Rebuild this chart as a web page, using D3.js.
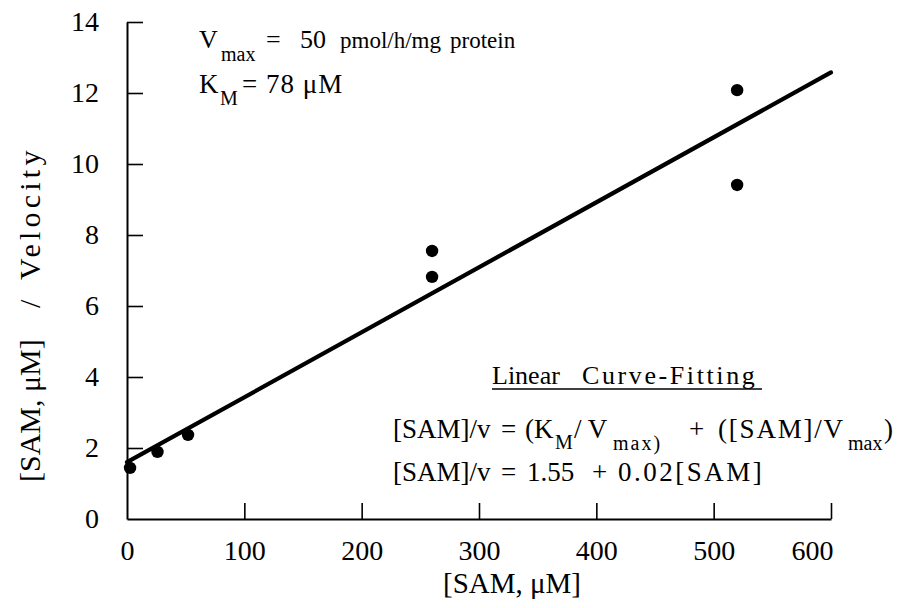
<!DOCTYPE html>
<html><head><meta charset="utf-8">
<script src="https://cdn.jsdelivr.net/npm/d3@7"></script>
<style>
html,body{margin:0;padding:0;background:#fff;}
svg{display:block;}
</style></head>
<body>
<svg id="chart" width="901" height="608"></svg>
<script>
// ---- data ----
const samConc = [2.6, 26, 52, 260, 260, 520, 520];
const samOverV = [1.44, 1.89, 2.37, 7.55, 6.82, 12.08, 9.41];
const fitIntercept = 1.6;
const fitSlope = 0.0183;
const fitRange = [0, 600];
const xTicks = [0, 100, 200, 300, 400, 500, 600];
const yTicks = [0, 2, 4, 6, 8, 10, 12, 14];

const FONT = "Liberation Serif";
const svg = d3.select("#chart").attr("font-family", FONT);
const x = d3.scaleLinear().domain([0, 600]).range([127, 831]);
const y = d3.scaleLinear().domain([0, 14]).range([519, 22]);

// axes
const xAxis = d3.axisBottom(x).tickValues(xTicks).tickSizeInner(-16).tickSizeOuter(0).tickPadding(21);
const gx = svg.append("g").attr("transform", "translate(0,519)").call(xAxis);
const yAxis = d3.axisLeft(y).tickValues(yTicks).tickSizeInner(-16).tickSizeOuter(0).tickPadding(28);
const gy = svg.append("g").attr("transform", "translate(127,0)").call(yAxis);
[gx, gy].forEach(g => {
  g.attr("font-family", FONT).attr("font-size", 28);
  g.select(".domain").attr("stroke", "#000").attr("stroke-width", 2);
  g.selectAll(".tick line").attr("stroke", "#000").attr("stroke-width", 1.6);
  g.selectAll(".tick text").attr("font-family", FONT).attr("font-size", 28).attr("fill", "#000");
});
gx.selectAll(".tick text").filter(d => d === 600).attr("dx", -19);
gx.selectAll(".tick line").filter(d => d === 0).remove();
gy.selectAll(".tick line").filter(d => d === 0).remove();

// fitted line
const line = d3.line().x(d => x(d)).y(d => y(fitIntercept + fitSlope * d));
svg.append("path").datum(fitRange).attr("d", line).attr("fill", "none")
  .attr("stroke", "#000").attr("stroke-width", 4.2).attr("stroke-linecap", "round");

// points
svg.append("g").selectAll("circle").data(samConc).join("circle")
  .attr("cx", d => x(d)).attr("cy", (d, i) => y(samOverV[i])).attr("r", 6.2).attr("fill", "#000");

function txt(sel) { return sel.append("text").attr("font-family", FONT).attr("fill", "#000"); }

// axis titles
txt(svg).attr("x", 512).attr("y", 593).attr("text-anchor", "middle")
  .attr("font-size", 29).text("[SAM, μM]");
const yt = txt(svg).attr("transform", "translate(40,0) rotate(-90)").attr("font-size", 30);
yt.append("tspan").attr("x", -482).text("[SAM, μM]");
yt.append("tspan").attr("x", -308).text("/");
yt.append("tspan").attr("x", -280).attr("letter-spacing", 4.2).text("Velocity");

// annotation top-left
const a1 = txt(svg).attr("font-size", 26);
a1.append("tspan").attr("x", 199).attr("y", 48).text("V");
a1.append("tspan").attr("x", 221).attr("y", 61).attr("font-size", 20).text("max");
a1.append("tspan").attr("x", 266).attr("y", 48).text("=");
a1.append("tspan").attr("x", 300).attr("y", 48).text("50");
a1.append("tspan").attr("x", 340).attr("y", 48).attr("font-size", 23).text("pmol/h/mg");
a1.append("tspan").attr("x", 450).attr("y", 48).attr("font-size", 23).text("protein");
const a2 = txt(svg).attr("font-size", 27);
a2.append("tspan").attr("x", 199).attr("y", 93).text("K");
a2.append("tspan").attr("x", 220).attr("y", 105).attr("font-size", 20).text("M");
a2.append("tspan").attr("x", 242).attr("y", 93).attr("letter-spacing", 1).text("= 78 μM");

// fitting annotation
const b1 = txt(svg).attr("font-size", 26);
b1.append("tspan").attr("x", 492).attr("y", 384).text("Linear");
b1.append("tspan").attr("x", 582).attr("y", 384).attr("letter-spacing", 2.6).text("Curve-Fitting");
svg.append("line").attr("x1", 492).attr("x2", 762).attr("y1", 389).attr("y2", 389)
  .attr("stroke", "#000").attr("stroke-width", 1.5);

const b2 = txt(svg).attr("font-size", 27);
b2.append("tspan").attr("x", 393).attr("y", 438).text("[SAM]/v");
b2.append("tspan").attr("x", 501).attr("y", 438).text("=");
b2.append("tspan").attr("x", 525).attr("y", 438).text("(K");
b2.append("tspan").attr("x", 555).attr("y", 449).attr("font-size", 20).text("M");
b2.append("tspan").attr("x", 574).attr("y", 438).text("/ V");
b2.append("tspan").attr("x", 613).attr("y", 450).attr("font-size", 20).attr("letter-spacing", 2).text("max)");
b2.append("tspan").attr("x", 689).attr("y", 438).text("+");
b2.append("tspan").attr("x", 718).attr("y", 438).attr("letter-spacing", 1.8).text("([SAM]/V");
b2.append("tspan").attr("x", 848).attr("y", 450).attr("font-size", 20).text("max");
b2.append("tspan").attr("x", 884).attr("y", 438).text(")");

const b3 = txt(svg).attr("font-size", 27);
b3.append("tspan").attr("x", 393).attr("y", 481).text("[SAM]/v");
b3.append("tspan").attr("x", 501).attr("y", 481).text("=");
b3.append("tspan").attr("x", 527).attr("y", 481).text("1.55");
b3.append("tspan").attr("x", 592).attr("y", 481).text("+");
b3.append("tspan").attr("x", 618).attr("y", 481).attr("letter-spacing", 2.5).text("0.02[SAM]");
</script>
</body></html>
